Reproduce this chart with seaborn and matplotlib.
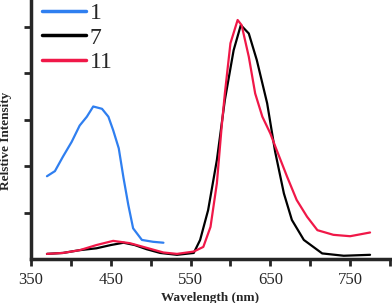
import numpy as np
import pandas as pd
import matplotlib
matplotlib.use("Agg")
import matplotlib.pyplot as plt
import seaborn as sns

# spectra (wavelength in nm, intensity in arbitrary units)
wl_1 = [370, 380, 390, 401, 411, 420, 428, 439, 447, 453, 460, 466, 472, 478, 489, 503, 516]
int_1 = [1.78, 1.89, 2.20, 2.52, 2.87, 3.06, 3.28, 3.23, 3.06, 2.77, 2.38, 1.74, 1.16, 0.66, 0.41, 0.37, 0.35]

wl_7 = [370, 390, 411, 432, 450, 466, 480, 495, 512, 533, 554, 562, 572, 583, 593, 604, 613,
        623, 633, 646, 656, 667, 677, 692, 715, 742, 775]
int_7 = [0.11, 0.13, 0.19, 0.23, 0.30, 0.35, 0.30, 0.21, 0.13, 0.09, 0.13, 0.41, 1.05, 2.13, 3.42,
         4.49, 5.03, 4.85, 4.28, 3.35, 2.31, 1.41, 0.84, 0.41, 0.12, 0.07, 0.09]

wl_11 = [370, 390, 411, 432, 453, 474, 495, 516, 533, 554, 566, 575, 583, 589, 593, 600, 609,
         614, 623, 631, 640, 650, 658, 671, 683, 696, 709, 729, 750, 775]
int_11 = [0.11, 0.13, 0.19, 0.30, 0.39, 0.34, 0.24, 0.14, 0.11, 0.16, 0.26, 0.69, 1.63, 2.85,
          3.56, 4.64, 5.14, 5.03, 4.35, 3.56, 3.06, 2.70, 2.34, 1.77, 1.27, 0.91, 0.62, 0.52,
          0.49, 0.57]

labels = ["1", "7", "11"]
colors = ["#2f7ff0", "#000000", "#f01848"]

df = pd.concat([
    pd.DataFrame({"wl": wl_1, "y": int_1, "s": "1"}),
    pd.DataFrame({"wl": wl_7, "y": int_7, "s": "7"}),
    pd.DataFrame({"wl": wl_11, "y": int_11, "s": "11"}),
])

sns.set_style("ticks")
plt.rcParams["font.family"] = ["Liberation Serif", "DejaVu Serif"]

fig = plt.figure(figsize=(3.92, 3.03), dpi=100)
ax = fig.add_axes([31 / 392, 44 / 303, 359 / 392, 259 / 303])

sns.lineplot(data=df, x="wl", y="y", hue="s", hue_order=labels,
             palette=colors, linewidth=1.6, sort=False, ax=ax)

ax.set_xlim(350, 800)
ax.set_ylim(0, 5.57)
ax.set_xticks([350, 450, 550, 650, 750])
ax.set_xticks([400, 500, 600, 700, 800], minor=True)
ax.set_yticks([1, 2, 3, 4, 5])
ax.set_yticklabels([])
ax.tick_params(axis="x", which="both", direction="out", length=5, width=2, labelsize=12, pad=4)
ax.tick_params(axis="y", direction="out", length=5, width=2)
for side in ["right", "top"]:
    ax.spines[side].set_visible(False)
for side in ["left", "bottom"]:
    ax.spines[side].set_linewidth(2.5)

ax.set_xlabel("Wavelength (nm)", fontsize=9.5, fontweight="bold", labelpad=3)
ax.set_ylabel("Relstive Intensity", fontsize=9.5, fontweight="bold")
ax.yaxis.set_label_coords(-0.052, 0.455)

leg = ax.legend(loc="upper left", frameon=False, fontsize=17, handlelength=1.86,
                borderaxespad=0.1, labelspacing=0.12, handletextpad=0.15,
                bbox_to_anchor=(-0.002, 1.035))
for line in leg.get_lines():
    line.set_linewidth(2.5)

fig.savefig("out.png", dpi=100)
